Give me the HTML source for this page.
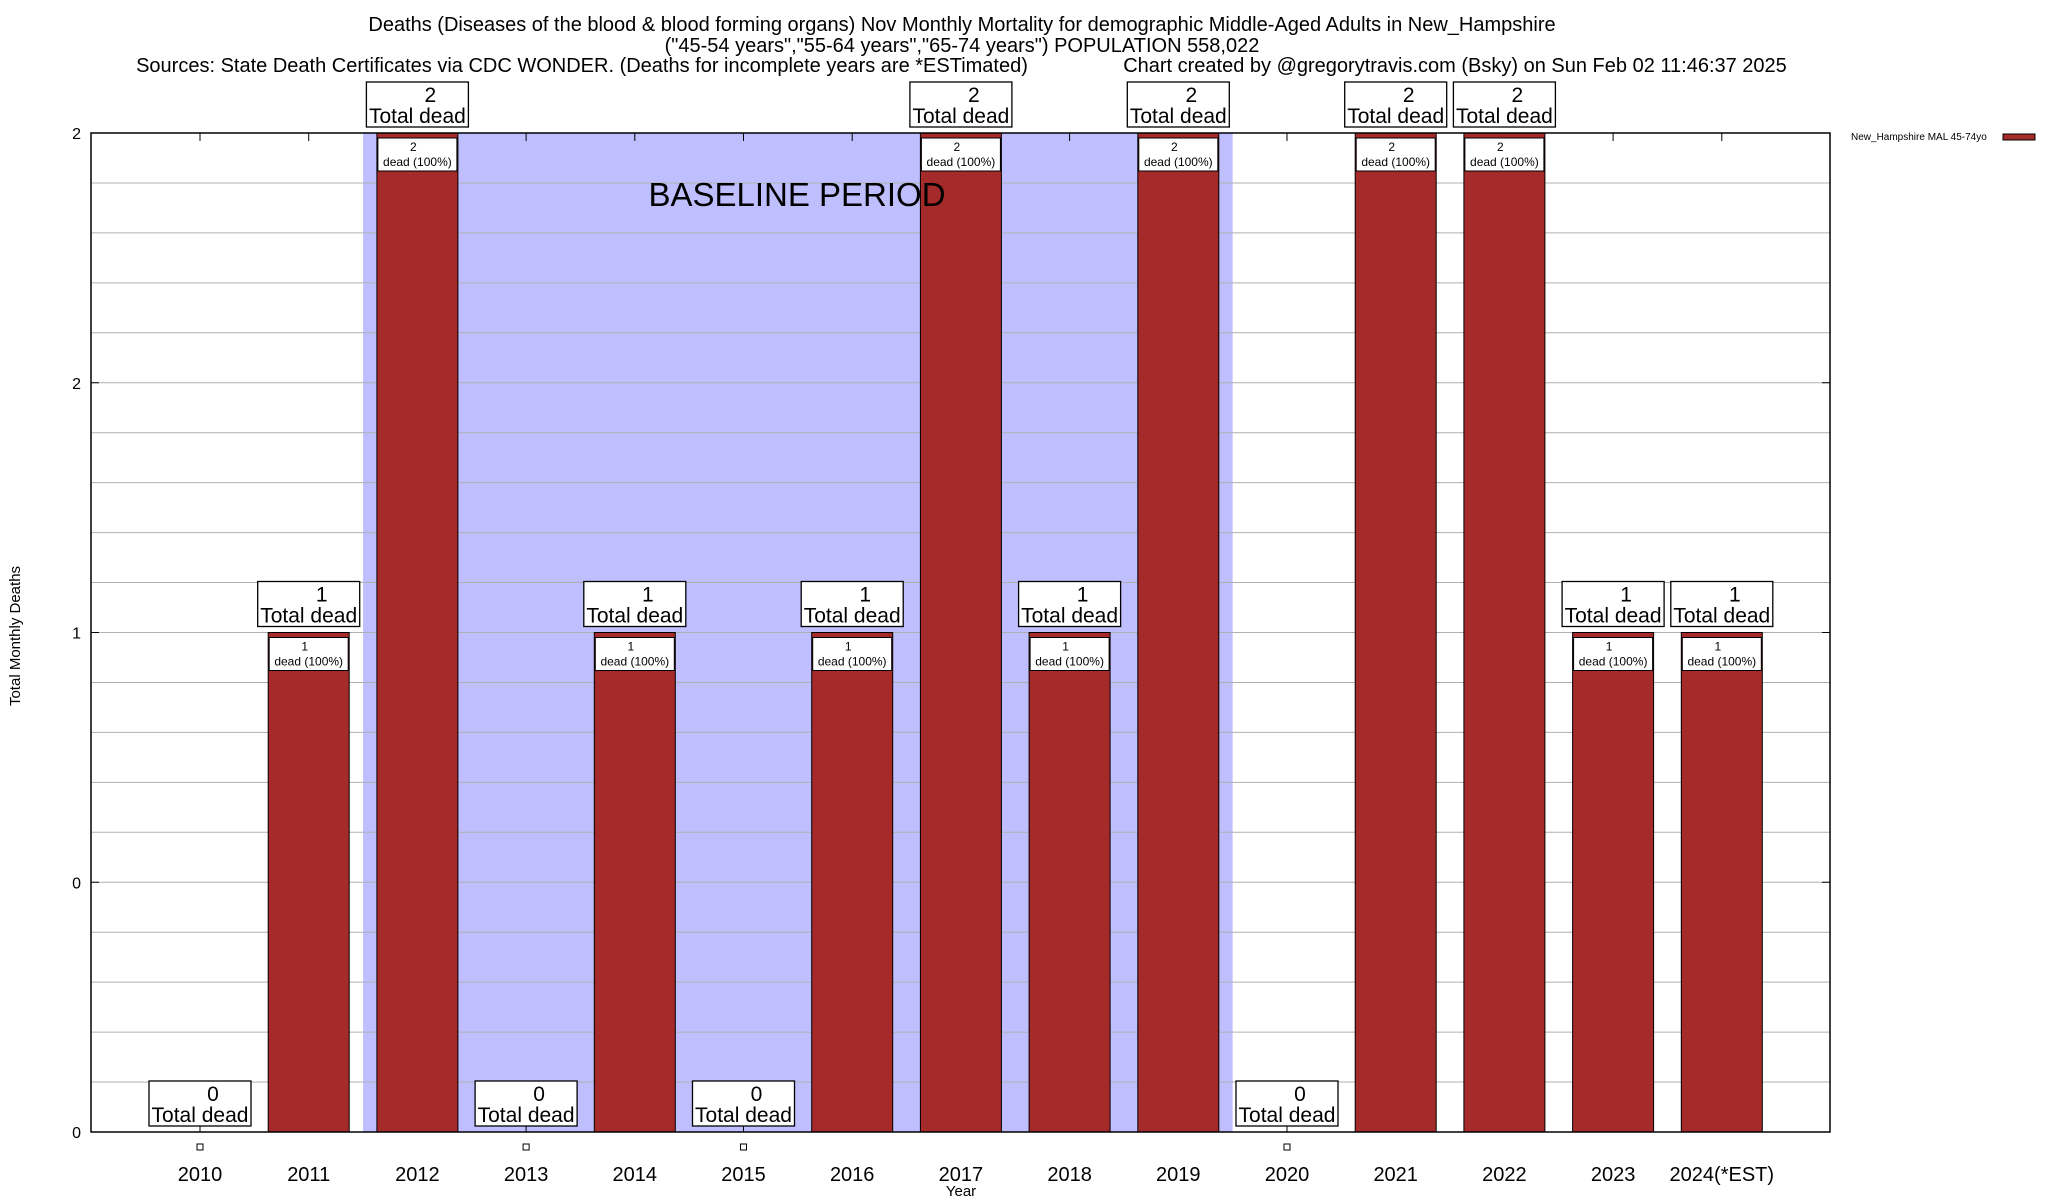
<!DOCTYPE html>
<html><head><meta charset="utf-8"><style>
body{margin:0;background:#fff;}
svg{display:block;font-family:"Liberation Sans",sans-serif;}
</style></head><body>
<svg id="chart" width="2048" height="1200" viewBox="0 0 2048 1200">
<g font-size="20" text-anchor="middle">
<text x="962" y="31">Deaths (Diseases of the blood &amp; blood forming organs) Nov Monthly Mortality for demographic Middle-Aged Adults in New_Hampshire</text>
<text x="962" y="52">("45-54 years","55-64 years","65-74 years") POPULATION 558,022</text>
<text x="582" y="72">Sources: State Death Certificates via CDC WONDER. (Deaths for incomplete years are *ESTimated)</text>
<text x="1455" y="72">Chart created by @gregorytravis.com (Bsky) on Sun Feb 02 11:46:37 2025</text>
</g>
<g id="plot"></g>
<text transform="translate(20,636) rotate(-90)" font-size="15" text-anchor="middle">Total Monthly Deaths</text>
<text x="961" y="1196" font-size="15" text-anchor="middle">Year</text>
<g>
<text x="1851" y="140" font-size="10">New_Hampshire MAL 45-74yo</text>
<rect x="2003" y="134" width="32" height="6" fill="#a52a2a" stroke="#000" stroke-width="1"/>
</g>
</svg>
<script>
const categories=["2010","2011","2012","2013","2014","2015","2016","2017","2018","2019","2020","2021","2022","2023","2024(*EST)"];
const deaths=[0,1,2,0,1,0,1,2,1,2,0,2,2,1,1];
const yTickValues=[0,0.5,1,1.5,2];
const yTickLabels=["0","0","1","2","2"];
const baselineStart=2011.5, baselineEnd=2019.5;

const L=91,R=1830,T=133,B=1132,NS="http://www.w3.org/2000/svg";
const x0=200,step=108.7,bw=81;
const xc=i=>x0+i*step;
const y=v=>B-(v/2)*(B-T);
const g=document.getElementById('plot');
function mk(t,a,p){const e=document.createElementNS(NS,t);for(const k in a)e.setAttribute(k,a[k]);(p||g).appendChild(e);return e;}

const frame=mk('rect',{x:L,y:T,width:R-L,height:B-T,fill:'#fff'});


const bs=mk('rect',{x:xc(baselineStart-2010),y:T,width:(baselineEnd-baselineStart)*step,height:B-T,fill:'#bfbfff'});


for(let k=1;k<20;k++){
 const gl=mk('line',{x1:L,x2:R,y1:y(k*0.1),y2:y(k*0.1),stroke:'#b0b0b0','stroke-width':1});
 
 
}

yTickValues.forEach((v,i)=>{
 const t=mk('text',{x:L-10,y:y(v)+6,'font-size':16,'text-anchor':'end'});
 t.textContent=yTickLabels[i];
 
 
 mk('line',{x1:L,x2:L+8,y1:y(v),y2:y(v),stroke:'#000'});
 mk('line',{x1:R-8,x2:R,y1:y(v),y2:y(v),stroke:'#000'});
});

categories.forEach((c,i)=>{
 const cx=xc(i),v=deaths[i];
 mk('line',{x1:cx,x2:cx,y1:T,y2:T+8,stroke:'#000'});
 mk('line',{x1:cx,x2:cx,y1:B-8,y2:B,stroke:'#000'});
 if(v>0){
  const b=mk('rect',{x:cx-bw/2,y:y(v),width:bw,height:B-y(v),fill:'#a52a2a',stroke:'#000','stroke-width':1});
  
  
  const ib=mk('rect',{x:cx-bw/2+1,y:y(v)+5,width:bw-2,height:33,fill:'#fff',stroke:'#000','stroke-width':1});
  
  
  const t1=mk('text',{x:cx-4,y:y(v)+18,'font-size':12,'text-anchor':'middle'});t1.textContent=v;
  const t2=mk('text',{x:cx,y:y(v)+33,'font-size':12,'text-anchor':'middle'});t2.textContent='dead (100%)';
 } else {
  const m=mk('rect',{x:cx-3,y:B+12,width:6,height:6,fill:'#fff',stroke:'#000','stroke-width':1});
  
  
 }
 const by=y(v)-51;
 const lb=mk('rect',{x:cx-51,y:by,width:102,height:45,fill:'#fff',stroke:'#000','stroke-width':1.3});
 
 
 const a=mk('text',{x:cx+13,y:by+20,'font-size':21,'text-anchor':'middle'});a.textContent=v;
 const b2=mk('text',{x:cx,y:by+41,'font-size':21,'text-anchor':'middle'});b2.textContent='Total dead';
 const xl=mk('text',{x:cx,y:1181,'font-size':20,'text-anchor':'middle'});
 xl.textContent=c;
 
 
});
const bt=mk('text',{x:797,y:206,'font-size':33,'text-anchor':'middle'});
bt.textContent='BASELINE PERIOD';


const border=mk('rect',{x:L,y:T,width:R-L,height:B-T,fill:'none',stroke:'#000','stroke-width':1.5});


</script>
</body></html>
